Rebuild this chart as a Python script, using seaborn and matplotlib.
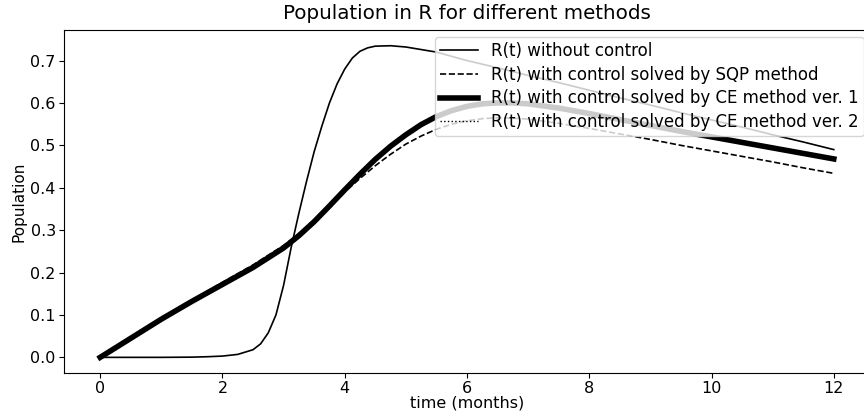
import matplotlib
matplotlib.use("Agg")
import matplotlib.pyplot as plt
import seaborn as sns
import numpy as np

# time grid (months) and R(t) without control
t_free = [0, 0.5, 1, 1.5, 1.75, 2.0, 2.25, 2.5, 2.625, 2.75, 2.875, 3.0, 3.125, 3.25, 3.375,
          3.5, 3.625, 3.75, 3.875, 4.0, 4.125, 4.25, 4.375, 4.5, 4.75, 5.0, 5.5, 6, 6.5, 7,
          7.5, 8, 8.5, 9, 9.5, 10, 10.5, 11, 11.5, 12]
R_free = [0, 0, 0, 0.0005, 0.0015, 0.003, 0.007, 0.018, 0.032, 0.058, 0.1, 0.17, 0.26, 0.34,
          0.415, 0.485, 0.545, 0.6, 0.645, 0.68, 0.706, 0.722, 0.73, 0.734, 0.735, 0.732,
          0.72, 0.70, 0.683, 0.665, 0.648, 0.63, 0.612, 0.595, 0.577, 0.56, 0.543, 0.525,
          0.508, 0.49]

# controlled runs
t_ctrl = [0, 0.5, 1, 1.5, 2, 2.5, 3, 3.25, 3.5, 3.75, 4, 4.25, 4.5, 4.75, 5, 5.25, 5.5,
          5.75, 6, 6.25, 6.5, 6.75, 7, 7.5, 8, 8.5, 9, 9.5, 10, 10.5, 11, 11.5, 12]
R_sqp = [0, 0.046, 0.092, 0.135, 0.177, 0.218, 0.264, 0.292, 0.324, 0.357, 0.39, 0.422,
         0.452, 0.479, 0.503, 0.522, 0.538, 0.55, 0.558, 0.563, 0.565, 0.564, 0.562, 0.552,
         0.54, 0.527, 0.514, 0.5, 0.487, 0.474, 0.461, 0.447, 0.434]
R_ce1 = [0, 0.045, 0.09, 0.132, 0.172, 0.212, 0.258, 0.287, 0.32, 0.357, 0.395, 0.432,
         0.467, 0.498, 0.525, 0.549, 0.568, 0.582, 0.592, 0.598, 0.6, 0.6, 0.598, 0.588,
         0.575, 0.561, 0.547, 0.533, 0.52, 0.507, 0.494, 0.481, 0.468]
R_ce2 = [0, 0.045, 0.091, 0.133, 0.173, 0.213, 0.259, 0.288, 0.321, 0.358, 0.396, 0.433,
         0.468, 0.499, 0.526, 0.55, 0.569, 0.583, 0.593, 0.599, 0.601, 0.601, 0.599, 0.589,
         0.576, 0.562, 0.548, 0.534, 0.521, 0.508, 0.495, 0.482, 0.469]

labels = ["R(t) without control",
          "R(t) with control solved by SQP method",
          "R(t) with control solved by CE method ver. 1",
          "R(t) with control solved by CE method ver. 2"]

plt.rcParams['font.family'] = ['DejaVu Sans']

fig = plt.figure(figsize=(8.64, 4.13), dpi=100)
ax = fig.add_axes([0.0735, 0.097, 0.934, 0.830])

sns.lineplot(x=t_free, y=R_free, ax=ax, color="black", lw=1.2, label=labels[0])
sns.lineplot(x=t_ctrl, y=R_sqp, ax=ax, color="black", lw=1.2, linestyle="--", label=labels[1])
sns.lineplot(x=t_ctrl, y=R_ce1, ax=ax, color="black", lw=4, label=labels[2])
sns.lineplot(x=t_ctrl, y=R_ce2, ax=ax, color="black", lw=1, linestyle=":", label=labels[3])

ax.set_title("Population in R for different methods", fontsize=14.3, pad=8)
ax.set_xlabel("time (months)", fontsize=11.5, labelpad=0)
ax.set_ylabel("Population", fontsize=11, labelpad=3)
ax.tick_params(labelsize=11.5, pad=2)
ax.set_xticks([0, 2, 4, 6, 8, 10, 12])
ax.legend(loc="upper right", fontsize=12, borderaxespad=0.4, handlelength=2.3,
          handletextpad=0.8, labelspacing=0.35, borderpad=0.3)

fig.savefig("out.png", dpi=100)
